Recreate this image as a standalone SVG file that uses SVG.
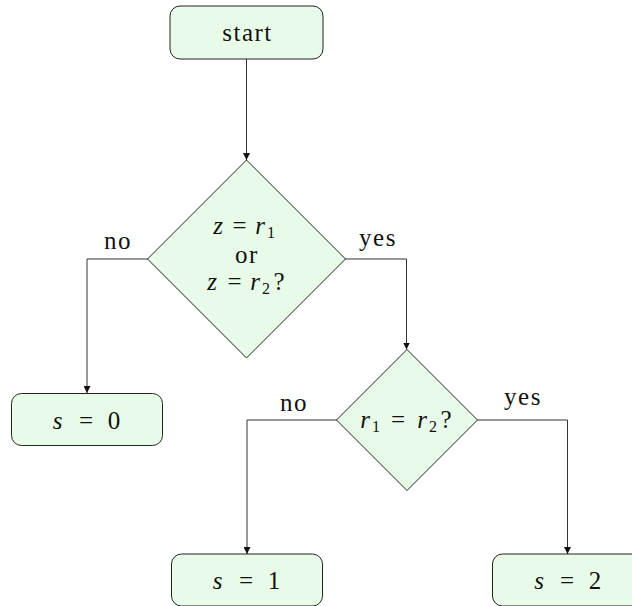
<svg xmlns="http://www.w3.org/2000/svg" width="632" height="606" viewBox="0 0 632 606">
<style>
.box{fill:#e8fbe8;stroke:#222;stroke-width:1}
.t{font-family:"Liberation Serif","DejaVu Serif",serif;font-size:25px;fill:#111;text-anchor:middle}
.w{letter-spacing:1.5px}
.m{font-style:italic}
.sub{font-size:16px;font-style:normal}
.c{fill:none;stroke:#333;stroke-width:1}
</style>
<defs>
<marker id="ah" viewBox="0 0 10 10" refX="10" refY="5" markerWidth="7" markerHeight="7" markerUnits="userSpaceOnUse" orient="auto">
<path d="M0,0 L10,5 L0,10 z" fill="#111"/>
</marker>
</defs>
<g id="connectors">
<path class="c" d="M246.5,59 V160" marker-end="url(#ah)"/>
<path class="c" d="M148,259 H87 V393" marker-end="url(#ah)"/>
<path class="c" d="M345,259 H406.5 V349.5" marker-end="url(#ah)"/>
<path class="c" d="M337,420 H247 V554" marker-end="url(#ah)"/>
<path class="c" d="M477.5,420 H567.5 V554" marker-end="url(#ah)"/>
<text class="t w" x="118" y="249">no</text>
<text class="t w" x="378" y="246">yes</text>
<text class="t w" x="294" y="411">no</text>
<text class="t w" x="523" y="405">yes</text>
</g>
<g id="start">
<rect class="box" x="170" y="6" width="153" height="53" rx="10"/>
<text class="t w" x="247.5" y="41">start</text>
</g>
<g id="decision1">
<path class="box" d="M246.5,160 L345.5,259 L246.5,358 L147.5,259 z"/>
<text class="t"><tspan class="m" x="218" y="234">z</tspan><tspan x="239.5" y="234">=</tspan><tspan class="m" x="260" y="234">r</tspan><tspan class="sub" x="271" y="238">1</tspan></text>
<text class="t w" x="247" y="263">or</text>
<text class="t"><tspan class="m" x="212" y="290">z</tspan><tspan x="234.5" y="290">=</tspan><tspan class="m" x="255" y="290">r</tspan><tspan class="sub" x="266" y="294">2</tspan><tspan x="279" y="290">?</tspan></text>
</g>
<g id="decision2">
<path class="box" d="M407,349.5 L477.5,420 L407,490.5 L336.5,420 z"/>
<text class="t"><tspan class="m" x="365" y="428">r</tspan><tspan class="sub" x="376" y="432">1</tspan><tspan x="398" y="428">=</tspan><tspan class="m" x="422" y="428">r</tspan><tspan class="sub" x="433" y="432">2</tspan><tspan x="446" y="428">?</tspan></text>
</g>
<g id="s0">
<rect class="box" x="11.5" y="393.5" width="151" height="52" rx="10"/>
<text class="t"><tspan class="m" x="57.5" y="429">s</tspan><tspan x="86" y="429">=</tspan><tspan x="114" y="429">0</tspan></text>
</g>
<g id="s1">
<rect class="box" x="171.5" y="554" width="151" height="52" rx="10"/>
<text class="t"><tspan class="m" x="217.5" y="589">s</tspan><tspan x="246" y="589">=</tspan><tspan x="274" y="589">1</tspan></text>
</g>
<g id="s2">
<rect class="box" x="492.5" y="554" width="151" height="52" rx="10"/>
<text class="t"><tspan class="m" x="539" y="589">s</tspan><tspan x="567" y="589">=</tspan><tspan x="595" y="589">2</tspan></text>
</g>
</svg>
